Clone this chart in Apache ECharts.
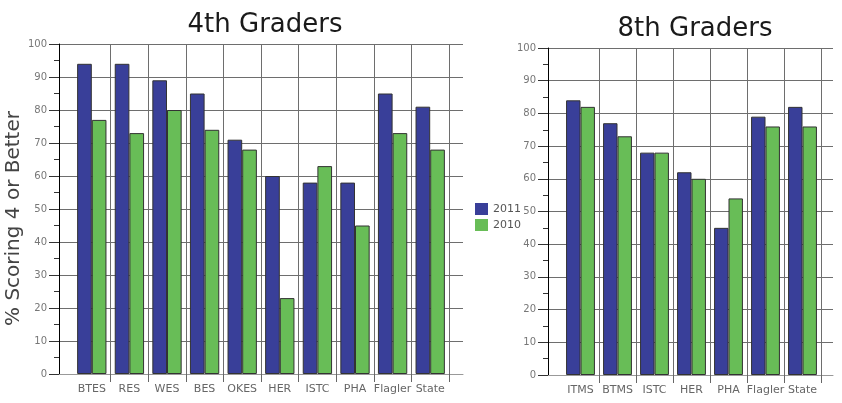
<!DOCTYPE html>
<html>
<head>
<meta charset="utf-8">
<script src="https://cdn.jsdelivr.net/npm/echarts@6/dist/echarts.min.js"></script>
<style>
  html, body { margin: 0; padding: 0; background: #fff; }
  #main { width: 842px; height: 403px; }
</style>
</head>
<body>
<div id="main"></div>
<script>
// data :
var schools4 = ["BTES", "RES", "WES", "BES", "OKES", "HER", "ISTC", "PHA", "Flagler", "State"];
var grade4y2011 = [94, 94, 89, 85, 71, 60, 58, 58, 85, 81];
var grade4y2010 = [77, 73, 80, 74, 68, 23, 63, 45, 73, 68];
var schools8 = ["ITMS", "BTMS", "ISTC", "HER", "PHA", "Flagler", "State"];
var grade8y2011 = [84, 77, 68, 62, 45, 79, 82];
var grade8y2010 = [82, 73, 68, 60, 54, 76, 76];
var years = ["2011", "2010"];
var yTicks = { min: 0, max: 100, interval: 10 };

var blue = "#393f99";
var green = "#68bd57";
var gridColor = "#6e6e6e";
var font = "DejaVu Sans";

// outer y axis with gridlines
function outerY(grid, name) {
  return {
    gridIndex: grid,
    type: "value",
    min: yTicks.min,
    max: yTicks.max,
    interval: yTicks.interval,
    name: name,
    nameLocation: "middle",
    nameRotate: 90,
    nameGap: 35,
    nameTextStyle: { fontFamily: font, fontSize: 20, color: "#444", padding: [0, 19, 0, 0] },
    axisLine: { show: true, lineStyle: { color: "#000" } },
    axisTick: { show: true, length: 10, lineStyle: { color: "#333" } },
    minorTick: { show: true, splitNumber: 2, length: 5, lineStyle: { color: "#333" } },
    splitLine: { show: true, lineStyle: { color: gridColor, width: 1 } },
    axisLabel: { margin: 12, fontFamily: font, fontSize: 10, color: "#777" }
  };
}
function innerY(grid) {
  return { gridIndex: grid, type: "value", min: yTicks.min, max: yTicks.max, show: false };
}
function outerX(grid) {
  return {
    gridIndex: grid, type: "value", min: 0, max: 1,
    axisLine: { show: true, lineStyle: { color: "#999" } },
    axisTick: { show: false }, axisLabel: { show: false }, splitLine: { show: false }
  };
}
function innerX(grid, cats) {
  var skipFirst = function (i) { return i > 0; };
  return {
    gridIndex: grid,
    type: "category",
    data: cats,
    axisLine: { show: false },
    axisTick: { show: true, length: 8, interval: skipFirst, lineStyle: { color: "#666" } },
    splitLine: { show: true, interval: skipFirst, lineStyle: { color: gridColor, width: 1 } },
    axisLabel: { margin: 10, interval: 0, fontFamily: font, fontSize: 11, color: "#666" }
  };
}
function bars(name, data, color, axis) {
  return {
    name: name,
    type: "bar",
    xAxisIndex: axis,
    yAxisIndex: axis,
    data: data,
    barGap: "0%",
    barCategoryGap: "22%",
    itemStyle: { color: color, borderColor: "#333", borderWidth: 1 }
  };
}

var myChart = echarts.init(document.getElementById("main"));
var option = {
  animation: false,
  color: [blue, green],
  title: [
    { text: "4th Graders", left: 260, top: 7, textAlign: "center",
      textStyle: { fontFamily: font, fontWeight: "normal", fontSize: 26, color: "#1a1a1a" } },
    { text: "8th Graders", left: 690, top: 11, textAlign: "center",
      textStyle: { fontFamily: font, fontWeight: "normal", fontSize: 26, color: "#1a1a1a" } }
  ],
  legend: {
    data: years,
    orient: "vertical",
    left: 470,
    top: 198,
    icon: "rect",
    itemWidth: 13,
    itemHeight: 12,
    itemGap: 4,
    itemStyle: { borderWidth: 0 },
    textStyle: { fontFamily: font, fontSize: 11, color: "#555" }
  },
  grid: [
    { left: 59, top: 44, width: 404, height: 330 },
    { left: 73, top: 44, width: 376, height: 330 },
    { left: 548, top: 48, width: 285, height: 327 },
    { left: 562, top: 48, width: 259, height: 327 }
  ],
  xAxis: [outerX(0), innerX(1, schools4), outerX(2), innerX(3, schools8)],
  yAxis: [outerY(0, "% Scoring 4 or Better"), innerY(1), outerY(2, ""), innerY(3)],
  series: [
    bars(years[0], grade4y2011, blue, 1),
    bars(years[1], grade4y2010, green, 1),
    bars(years[0], grade8y2011, blue, 3),
    bars(years[1], grade8y2010, green, 3)
  ]
};
myChart.setOption(option);
</script>
</body>
</html>
